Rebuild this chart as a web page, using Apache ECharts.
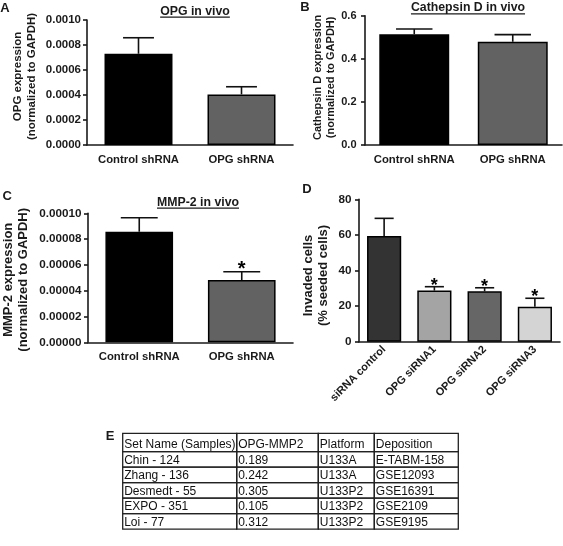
<!DOCTYPE html>
<html><head><meta charset="utf-8">
<script src="https://cdn.jsdelivr.net/npm/echarts@6/dist/echarts.min.js"></script>
<style>html,body{margin:0;padding:0;background:#fff}#c{width:563px;height:546px}</style>
</head><body><div id="c"></div>
<script>
const FONT = '"Liberation Sans", Arial, Helvetica, sans-serif';
const INK = '#1a1a1a';

// ---- Panel A: OPG in vivo ----
const catsAB = ['Control shRNA', 'OPG shRNA'];
const opgMean = [0.00073, 0.000405];
const opgTop = [0.000858, 0.000466];
// ---- Panel B: Cathepsin D in vivo ----
const ctsdMean = [0.514, 0.479];
const ctsdTop = [0.538, 0.512];
// ---- Panel C: MMP-2 in vivo ----
const mmp2Mean = [0.0000857, 0.0000483];
const mmp2Top = [0.0000966, 0.0000547];
const mmp2Sig = [false, true];
// ---- Panel D: invasion ----
const catsD = ['siRNA control', 'OPG siRNA1', 'OPG siRNA2', 'OPG siRNA3'];
const invMean = [59.4, 28.7, 28.3, 19.7];
const invTop = [69.3, 30.9, 30.3, 24.4];
const invSig = [false, true, true, true];
// ---- Panel E: table ----
const tableHeader = ['Set Name (Samples)', 'OPG-MMP2', 'Platform', 'Deposition'];
const tableRows = [
  ['Chin - 124', '0.189', 'U133A', 'E-TABM-158'],
  ['Zhang - 136', '0.242', 'U133A', 'GSE12093'],
  ['Desmedt - 55', '0.305', 'U133P2', 'GSE16391'],
  ['EXPO - 351', '0.105', 'U133P2', 'GSE2109'],
  ['Loi - 77', '0.312', 'U133P2', 'GSE9195']
];

// layout constants (table geometry in grid units)
const colEdges = [0, 114, 195.6, 251.6, 335.6];
const rowEdges = [0, 18.4, 33.9, 49.4, 64.9, 80.4, 95.9];
const tableAll = [tableHeader].concat(tableRows);
const cellData = [];
tableAll.forEach((row, r) => row.forEach((t, c) => cellData.push([c, r])));

const colorsAB = ['#000000', '#626262'];
const colorsD = ['#333333', '#a4a4a4', '#666666', '#d4d4d4'];

const mctx = document.createElement('canvas').getContext('2d');
function textW(t, size) { mctx.font = 'bold ' + size + 'px ' + FONT; return mctx.measureText(t).width; }

function xCat(gi, cats, fs, margin, rotate) {
  return {
    type: 'category', gridIndex: gi, data: cats,
    axisLine: { lineStyle: { color: INK, width: 1.6 } },
    axisTick: { alignWithLabel: true, length: 4, lineStyle: { color: INK, width: 1.6 } },
    axisLabel: { interval: 0, color: INK, fontFamily: FONT, fontWeight: 'bold', fontSize: fs, margin: margin, rotate: rotate || 0 }
  };
}
function yVal(gi, max, interval, dec, fs, margin, name, nfs, nlh, ngap, npad) {
  return {
    type: 'value', gridIndex: gi, min: 0, max: max, interval: interval,
    splitLine: { show: false },
    axisLine: { show: true, lineStyle: { color: INK, width: 1.6 } },
    axisTick: { show: true, length: 4, lineStyle: { color: INK, width: 1.6 } },
    axisLabel: { color: INK, fontFamily: FONT, fontWeight: 'bold', fontSize: fs, margin: margin,
      formatter: v => Number(v).toFixed(dec) },
    name: name, nameLocation: 'middle', nameRotate: 90, nameGap: ngap,
    nameTextStyle: { color: INK, fontFamily: FONT, fontWeight: 'bold', fontSize: nfs, lineHeight: nlh, padding: npad }
  };
}
function bars(gi, vals, colors, bw) {
  return {
    type: 'bar', xAxisIndex: gi, yAxisIndex: gi, barWidth: bw,
    data: vals.map((v, i) => ({ value: v, itemStyle: { color: colors[i] } })),
    itemStyle: { borderColor: '#000', borderWidth: 1.5 },
    silent: true, z: 2
  };
}
function errs(gi, means, tops, sig, capFrac, starSize, starDy) {
  return {
    type: 'custom', xAxisIndex: gi, yAxisIndex: gi, z: 5, silent: true,
    data: means.map((m, i) => [i, m, tops[i], sig && sig[i] ? 1 : 0]),
    renderItem: (params, api) => {
      const i = api.value(0);
      const base = api.coord([i, api.value(1)]);
      const top = api.coord([i, api.value(2)]);
      const band = api.size([1, 0])[0];
      const hw = band * capFrac / 2;
      const ch = [
        { type: 'line', shape: { x1: base[0], y1: base[1], x2: top[0], y2: top[1] }, style: { stroke: '#111', lineWidth: 1.6 } },
        { type: 'line', shape: { x1: top[0] - hw, y1: top[1], x2: top[0] + hw, y2: top[1] }, style: { stroke: '#111', lineWidth: 1.6 } }
      ];
      if (api.value(3)) ch.push({ type: 'text', x: top[0], y: top[1] + starDy,
        style: { text: '*', fontSize: starSize, fontWeight: 'bold', fontFamily: FONT, fill: '#000', align: 'center', verticalAlign: 'middle' } });
      return { type: 'group', children: ch };
    }
  };
}

const titles = [
  { t: 'OPG in vivo', cx: 195, cy: 11.2 },
  { t: 'Cathepsin D in vivo', cx: 468, cy: 7.8 },
  { t: 'MMP-2 in vivo', cx: 198, cy: 202.2 }
];
const letters = [
  { t: 'A', x: 5, y: 8.3 }, { t: 'B', x: 305, y: 7.2 }, { t: 'C', x: 7.2, y: 196.3 },
  { t: 'D', x: 307, y: 189.2 }, { t: 'E', x: 110, y: 436 }
];
const graphics = [];
const TS = 12.3;
titles.forEach(o => {
  const w = textW(o.t, TS);
  graphics.push({ type: 'text', x: o.cx, y: o.cy, style: { text: o.t, font: 'bold ' + TS + 'px ' + FONT, fill: INK, align: 'center', verticalAlign: 'middle' } });
  const uy = o.cy + 0.358 * TS + 1.6;
  graphics.push({ type: 'line', shape: { x1: o.cx - w / 2, y1: uy, x2: o.cx + w / 2, y2: uy }, style: { stroke: INK, lineWidth: 1.2 } });
});
letters.forEach(o => graphics.push({ type: 'text', x: o.x, y: o.y, style: { text: o.t, font: 'bold 13px ' + FONT, fill: INK, align: 'center', verticalAlign: 'middle' } }));

const option = {
  animation: false,
  backgroundColor: '#fff',
  grid: [
    { left: 87, top: 20, width: 206, height: 125 },
    { left: 365, top: 15.7, width: 197, height: 129.3 },
    { left: 87, top: 213.3, width: 206, height: 129 },
    { left: 359, top: 199.3, width: 201, height: 142.4 },
    { left: 122.7, top: 433.3, width: 335.6, height: 95.9 }
  ],
  xAxis: [
    xCat(0, catsAB, 11.3, 9.5),
    xCat(1, catsAB, 11.3, 9.7),
    xCat(2, catsAB, 11.3, 9.4),
    xCat(3, catsD, 11, 6, 45),
    { type: 'value', gridIndex: 4, min: 0, max: 335.6, show: false }
  ],
  yAxis: [
    yVal(0, 0.001, 0.0002, 4, 11.5, 6, 'OPG expression\n(normalized to GAPDH)', 11.5, 13.4, 48.6, [0, 0, 0, 12]),
    yVal(1, 0.6, 0.2, 1, 11, 8.5, 'Cathepsin D expression\n(normalized to GAPDH)', 11, 12.4, 28, [0, 0, 0, 6]),
    yVal(2, 0.0001, 0.00002, 5, 11.7, 6.5, 'MMP-2 expression\n(normalized to GAPDH)', 13, 15, 57, [0, 4, 0, 0]),
    yVal(3, 80, 20, 0, 11.7, 7.5, 'Invaded cells\n(% seeded cells)', 13, 15, 28, [0, 10, 0, 0]),
    { type: 'value', gridIndex: 4, min: 0, max: 95.9, inverse: true, show: false }
  ],
  series: [
    bars(0, opgMean, colorsAB, '66%'),
    errs(0, opgMean, opgTop, null, 0.3, 20, -2),
    bars(1, ctsdMean, colorsAB, '71%'),
    errs(1, ctsdMean, ctsdTop, null, 0.37, 20, -2),
    bars(2, mmp2Mean, colorsAB, '66%'),
    errs(2, mmp2Mean, mmp2Top, mmp2Sig, 0.36, 20, -2),
    bars(3, invMean, colorsD, '68%'),
    errs(3, invMean, invTop, invSig, 0.38, 18, -1),
    {
      type: 'custom', xAxisIndex: 4, yAxisIndex: 4, silent: true, data: cellData,
      renderItem: (params, api) => {
        const c = api.value(0), r = api.value(1);
        const p0 = api.coord([colEdges[c], rowEdges[r]]);
        const p1 = api.coord([colEdges[c + 1], rowEdges[r + 1]]);
        return { type: 'group', children: [
          { type: 'rect', shape: { x: p0[0], y: p0[1], width: p1[0] - p0[0], height: p1[1] - p0[1] }, style: { fill: 'none', stroke: '#222', lineWidth: 1.3 } },
          { type: 'text', x: p0[0] + 1.5, y: p1[1] - 6.8, style: { text: tableAll[r][c], font: '12px ' + FONT, fill: '#111', align: 'left', verticalAlign: 'middle' } }
        ] };
      }
    }
  ],
  graphic: graphics
};
const chart = echarts.init(document.getElementById('c'), null, { renderer: 'canvas' });
chart.setOption(option);
</script></body></html>
